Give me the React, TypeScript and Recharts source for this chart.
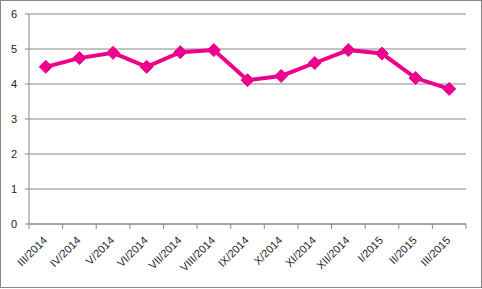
import React from "react";
import { LineChart, Line, XAxis, YAxis, CartesianGrid } from "recharts";

const categories = [
  "III/2014", "IV/2014", "V/2014", "VI/2014", "VII/2014", "VIII/2014", "IX/2014",
  "X/2014", "XI/2014", "XII/2014", "I/2015", "II/2015", "III/2015",
];
const values = [4.49, 4.74, 4.89, 4.49, 4.91, 4.97, 4.11, 4.23, 4.6, 4.97, 4.87, 4.17, 3.86];
const yTicks = [0, 1, 2, 3, 4, 5, 6];

const data = categories.map((c, i) => ({ name: c, value: values[i] }));

const FONT = "'Liberation Sans', Arial, sans-serif";
const GRAY = "#878787";
const PINK = "#EC008C";

function XTick(props: any) {
  const { x, y, payload, index, width } = props;
  const step = (width || 437) / categories.length;
  const last = index === categories.length - 1;
  return (
    <g>
      <line x1={x - step / 2} y1={y} x2={x - step / 2} y2={y + 5} stroke={GRAY} strokeWidth={1} />
      {last && <line x1={x + step / 2} y1={y} x2={x + step / 2} y2={y + 5} stroke={GRAY} strokeWidth={1} />}
      <text
        x={x + 2}
        y={y + 17}
        textAnchor="end"
        transform={`rotate(-45, ${x + 2}, ${y + 17})`}
        fontFamily={FONT}
        fontSize={11}
        fill="#222"
      >
        {payload.value}
      </text>
    </g>
  );
}

function Diamond(props: any) {
  const { cx, cy } = props;
  if (cx == null || cy == null) return null;
  const r = 6.5;
  return (
    <path
      d={`M${cx},${cy - r}L${cx + r},${cy}L${cx},${cy + r}L${cx - r},${cy}Z`}
      fill={PINK}
      stroke={PINK}
      strokeWidth={1}
    />
  );
}

export default function App() {
  return (
    <div style={{ position: "fixed", left: 0, top: 0, width: 482, height: 289, background: "#fff" }}>
      <LineChart
        width={482}
        height={289}
        data={data}
        margin={{ top: 14, right: 16, left: 0, bottom: 0 }}
      >
        <CartesianGrid horizontal vertical={false} stroke={GRAY} strokeDasharray="" />
        <XAxis
          dataKey="name"
          scale="band"
          height={65}
          interval={0}
          tickLine={false}
          tickSize={0}
          tickMargin={0}
          axisLine={{ stroke: GRAY }}
          tick={<XTick />}
        />
        <YAxis
          width={29}
          domain={[0, 6]}
          ticks={yTicks}
          interval={0}
          tickSize={4}
          tickMargin={8}
          axisLine={{ stroke: GRAY }}
          tickLine={{ stroke: GRAY }}
          tick={{ fontFamily: FONT, fontSize: 11, fill: "#222" }}
        />
        <Line
          dataKey="value"
          stroke={PINK}
          strokeWidth={4}
          dot={<Diamond />}
          activeDot={false}
          isAnimationActive={false}
        />
      </LineChart>
      <div
        style={{
          position: "absolute",
          left: 0,
          top: 0,
          width: 482,
          height: 288,
          boxSizing: "border-box",
          border: `1px solid ${GRAY}`,
          pointerEvents: "none",
        }}
      />
    </div>
  );
}
